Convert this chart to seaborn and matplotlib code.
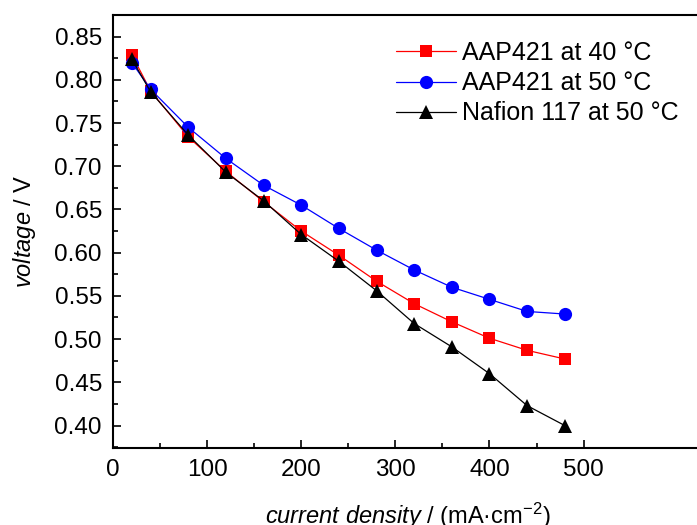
import numpy as np
import pandas as pd
import matplotlib
matplotlib.use("Agg")
import matplotlib.pyplot as plt
import seaborn as sns
from matplotlib.ticker import MultipleLocator, FixedLocator, FormatStrFormatter

# current density (mA/cm2) and cell voltage (V)
current = [20, 40, 80, 120, 160, 200, 240, 280, 320, 360, 400, 440, 480]
aap421_40 = [0.829, 0.787, 0.734, 0.694, 0.659, 0.625, 0.597, 0.567, 0.541, 0.520, 0.501, 0.487, 0.477]
aap421_50 = [0.820, 0.789, 0.745, 0.709, 0.678, 0.655, 0.628, 0.603, 0.580, 0.560, 0.546, 0.532, 0.529]
nafion_50 = [0.824, 0.786, 0.736, 0.693, 0.660, 0.621, 0.590, 0.556, 0.518, 0.491, 0.460, 0.423, 0.400]
labels = ["AAP421 at 40 °C", "AAP421 at 50 °C", "Nafion 117 at 50 °C"]
xticks = [0, 100, 200, 300, 400, 500]

sns.set_style("ticks")
plt.rcParams['font.family'] = ['Liberation Sans', 'DejaVu Sans']
plt.rcParams['mathtext.fontset'] = 'custom'
plt.rcParams['mathtext.rm'] = 'Liberation Sans'
plt.rcParams['mathtext.it'] = 'Liberation Sans:italic'
plt.rcParams['text.color'] = 'black'
plt.rcParams['axes.labelcolor'] = 'black'
plt.rcParams['xtick.color'] = 'black'
plt.rcParams['ytick.color'] = 'black'
plt.rcParams['axes.edgecolor'] = 'black'

fig = plt.figure(figsize=(6.97, 5.25), dpi=100)
# axes runs past the right edge like the cropped original
ax = fig.add_axes([113/697, 77/525, 590/697, 433/525])

series = [(aap421_40, "red", "s", 8.5), (aap421_50, "blue", "o", 9.5), (nafion_50, "black", "^", 10)]
for (vals, col, mk, ms), lab in zip(series, labels):
    df = pd.DataFrame({"current": current, "voltage": vals})
    sns.lineplot(data=df, x="current", y="voltage", ax=ax, color=col, marker=mk,
                 markersize=ms, markeredgewidth=0, linewidth=0.9, label=lab)

ax.set_xlim(0, 590/0.9412)
ax.set_ylim(0.374, 0.875)
ax.xaxis.set_major_locator(FixedLocator(xticks))
ax.xaxis.set_minor_locator(FixedLocator([50, 150, 250, 350, 450]))
ax.yaxis.set_major_locator(MultipleLocator(0.05))
ax.yaxis.set_minor_locator(MultipleLocator(0.025))
ax.yaxis.set_major_formatter(FormatStrFormatter('%.2f'))
ax.tick_params(which='major', direction='in', length=6, width=1.2, labelsize=17.5, pad=8)
ax.tick_params(which='minor', direction='in', length=3.5, width=1.2)
for s in ax.spines.values():
    s.set_linewidth(1.5)

ax.set_xlabel("$\\it{current\\ density}$ / (mA·cm$^{-2}$)", fontsize=17, labelpad=14)
ax.set_ylabel("$\\it{voltage}$ / V", fontsize=17, labelpad=12)

ax.legend(loc='upper left', bbox_to_anchor=(396/697, 1 - 41/525), bbox_transform=fig.transFigure,
          frameon=False, fontsize=18, handlelength=2.4, handletextpad=0.25, labelspacing=0.25,
          borderaxespad=0, borderpad=0)

fig.savefig("out.png", dpi=100)
